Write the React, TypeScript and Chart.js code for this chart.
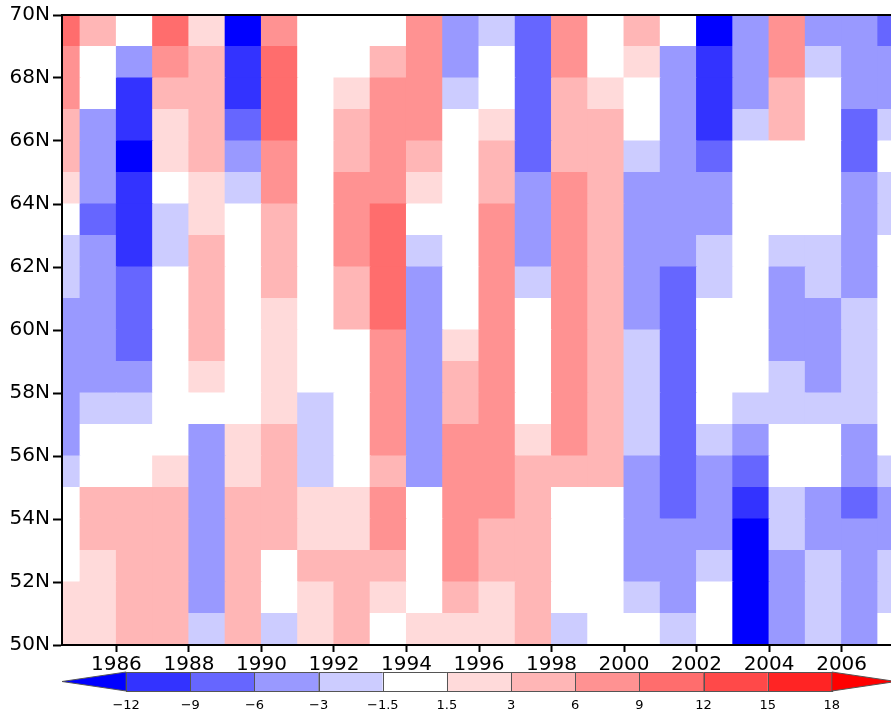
import { useEffect, useRef } from 'react';
import { Chart, registerables } from 'chart.js';

Chart.register(...registerables);

// Each cell spans one year (start year below) and one degree of latitude (lower edge below)
const cellYears = [1984, 1985, 1986, 1987, 1988, 1989, 1990, 1991, 1992, 1993, 1994, 1995,
  1996, 1997, 1998, 1999, 2000, 2001, 2002, 2003, 2004, 2005, 2006, 2007];
const latitudes = [69, 68, 67, 66, 65, 64, 63, 62, 61, 60, 59, 58, 57, 56, 55, 54, 53, 52, 51, 50];

const lat69 = [10.5, 4.5, 0, 10.5, 2.2, -13.5, 7.5, 0, 0, 0, 7.5, -4.5, -2.2, -7.5, 7.5, 0, 4.5, 0, -13.5, -4.5, 7.5, -4.5, -4.5, -7.5];
const lat68 = [7.5, 0, -4.5, 7.5, 4.5, -10.5, 10.5, 0, 0, 4.5, 7.5, -4.5, 0, -7.5, 7.5, 0, 2.2, -4.5, -10.5, -4.5, 7.5, -2.2, -4.5, -4.5];
const lat67 = [7.5, 0, -10.5, 4.5, 4.5, -10.5, 10.5, 0, 2.2, 7.5, 7.5, -2.2, 0, -7.5, 4.5, 2.2, 0, -4.5, -10.5, -4.5, 4.5, 0, -4.5, -4.5];
const lat66 = [4.5, -4.5, -10.5, 2.2, 4.5, -7.5, 10.5, 0, 4.5, 7.5, 7.5, 0, 2.2, -7.5, 4.5, 4.5, 0, -4.5, -10.5, -2.2, 4.5, 0, -7.5, -2.2];
const lat65 = [4.5, -4.5, -13.5, 2.2, 4.5, -4.5, 7.5, 0, 4.5, 7.5, 4.5, 0, 4.5, -7.5, 4.5, 4.5, -2.2, -4.5, -7.5, 0, 0, 0, -7.5, 0];
const lat64 = [2.2, -4.5, -10.5, 0, 2.2, -2.2, 7.5, 0, 7.5, 7.5, 2.2, 0, 4.5, -4.5, 7.5, 4.5, -4.5, -4.5, -4.5, 0, 0, 0, -4.5, -2.2];
const lat63 = [0, -7.5, -10.5, -2.2, 2.2, 0, 4.5, 0, 7.5, 10.5, 0, 0, 7.5, -4.5, 7.5, 4.5, -4.5, -4.5, -4.5, 0, 0, 0, -4.5, -2.2];
const lat62 = [-2.2, -4.5, -10.5, -2.2, 4.5, 0, 4.5, 0, 7.5, 10.5, -2.2, 0, 7.5, -4.5, 7.5, 4.5, -4.5, -4.5, -2.2, 0, -2.2, -2.2, -4.5, 0];
const lat61 = [-2.2, -4.5, -7.5, 0, 4.5, 0, 4.5, 0, 4.5, 10.5, -4.5, 0, 7.5, -2.2, 7.5, 4.5, -4.5, -7.5, -2.2, 0, -4.5, -2.2, -4.5, 0];
const lat60 = [-4.5, -4.5, -7.5, 0, 4.5, 0, 2.2, 0, 4.5, 10.5, -4.5, 0, 7.5, 0, 7.5, 4.5, -4.5, -7.5, 0, 0, -4.5, -4.5, -2.2, 0];
const lat59 = [-4.5, -4.5, -7.5, 0, 4.5, 0, 2.2, 0, 0, 7.5, -4.5, 2.2, 7.5, 0, 7.5, 4.5, -2.2, -7.5, 0, 0, -4.5, -4.5, -2.2, 0];
const lat58 = [-4.5, -4.5, -4.5, 0, 2.2, 0, 2.2, 0, 0, 7.5, -4.5, 4.5, 7.5, 0, 7.5, 4.5, -2.2, -7.5, 0, 0, -2.2, -4.5, -2.2, 0];
const lat57 = [-4.5, -2.2, -2.2, 0, 0, 0, 2.2, -2.2, 0, 7.5, -4.5, 4.5, 7.5, 0, 7.5, 4.5, -2.2, -7.5, 0, -2.2, -2.2, -2.2, -2.2, 0];
const lat56 = [-4.5, 0, 0, 0, -4.5, 2.2, 4.5, -2.2, 0, 7.5, -4.5, 7.5, 7.5, 2.2, 7.5, 4.5, -2.2, -7.5, -2.2, -4.5, 0, 0, -4.5, 0];
const lat55 = [-2.2, 0, 0, 2.2, -4.5, 2.2, 4.5, -2.2, 0, 4.5, -4.5, 7.5, 7.5, 4.5, 4.5, 4.5, -4.5, -7.5, -4.5, -7.5, 0, 0, -4.5, -2.2];
const lat54 = [0, 4.5, 4.5, 4.5, -4.5, 4.5, 4.5, 2.2, 2.2, 7.5, 0, 7.5, 7.5, 4.5, 0, 0, -4.5, -7.5, -4.5, -10.5, -2.2, -4.5, -7.5, -4.5];
const lat53 = [0, 4.5, 4.5, 4.5, -4.5, 4.5, 4.5, 2.2, 2.2, 7.5, 0, 7.5, 4.5, 4.5, 0, 0, -4.5, -4.5, -4.5, -13.5, -2.2, -4.5, -4.5, -4.5];
const lat52 = [0, 2.2, 4.5, 4.5, -4.5, 4.5, 0, 4.5, 4.5, 4.5, 0, 7.5, 4.5, 4.5, 0, 0, -4.5, -4.5, -2.2, -13.5, -4.5, -2.2, -4.5, -2.2];
const lat51 = [2.2, 2.2, 4.5, 4.5, -4.5, 4.5, 0, 2.2, 4.5, 2.2, 0, 4.5, 2.2, 4.5, 0, 0, -2.2, -4.5, 0, -13.5, -4.5, -2.2, -4.5, -2.2];
const lat50 = [2.2, 2.2, 4.5, 4.5, -2.2, 4.5, -2.2, 2.2, 4.5, 0, 2.2, 2.2, 2.2, 4.5, -2.2, 0, 0, -2.2, 0, -13.5, -4.5, -2.2, -4.5, 0];

const rowValues = [lat69, lat68, lat67, lat66, lat65, lat64, lat63, lat62, lat61, lat60,
  lat59, lat58, lat57, lat56, lat55, lat54, lat53, lat52, lat51, lat50];

const xTickYears = [1986, 1988, 1990, 1992, 1994, 1996, 1998, 2000, 2002, 2004, 2006];
const yTickLats = [50, 52, 54, 56, 58, 60, 62, 64, 66, 68, 70];

const levels = [-12, -9, -6, -3, -1.5, 1.5, 3, 6, 9, 12, 15, 18];
const levelLabels = ['\u221212', '\u22129', '\u22126', '\u22123', '\u22121.5', '1.5', '3', '6', '9', '12', '15', '18'];
const fillColors = ['#0000ff', '#3333ff', '#6666ff', '#9999ff', '#ccccff', '#ffffff',
  '#ffdada', '#ffb6b6', '#ff9292', '#ff6d6d', '#ff4949', '#ff2424', '#ff0000'];

const FONT = '"DejaVu Sans", sans-serif';

function colorFor(v: number): string {
  const idx = levels.filter((l) => v >= l).length;
  return fillColors[idx];
}

export default function App() {
  const ref = useRef<HTMLCanvasElement>(null);

  useEffect(() => {
    if (!ref.current) return;
    const points: { x: number; y: number[] }[] = [];
    const colors: string[] = [];
    latitudes.forEach((lat, r) => {
      cellYears.forEach((yr, c) => {
        points.push({ x: yr + 0.5, y: [lat, lat + 1] });
        colors.push(colorFor(rowValues[r][c]));
      });
    });

    const framePlugin = {
      id: 'frameAndColorbar',
      afterDatasetsDraw(chart: any) {
        const { ctx, chartArea } = chart;
        ctx.save();
        ctx.strokeStyle = '#000';
        ctx.lineWidth = 2;
        ctx.beginPath();
        ctx.moveTo(chartArea.left - 1, chartArea.top);
        ctx.lineTo(chartArea.right, chartArea.top);
        ctx.stroke();
        ctx.restore();
      },
      afterDraw(chart: any) {
        const { ctx, chartArea } = chart;
        const { left, right, bottom } = chartArea;
        const n = fillColors.length;
        const segW = (right - left) / n;
        const y0 = bottom + 27;
        const h = 19;
        ctx.save();
        ctx.lineWidth = 1;
        ctx.strokeStyle = '#555';
        // left triangle
        ctx.beginPath();
        ctx.moveTo(left, y0 + h / 2);
        ctx.lineTo(left + segW, y0);
        ctx.lineTo(left + segW, y0 + h);
        ctx.closePath();
        ctx.fillStyle = fillColors[0];
        ctx.fill();
        ctx.stroke();
        for (let i = 1; i < n - 1; i++) {
          const x = left + i * segW;
          ctx.fillStyle = fillColors[i];
          ctx.fillRect(x, y0, segW, h);
          ctx.strokeRect(Math.round(x) + 0.5, y0 + 0.5, segW, h);
        }
        // right triangle
        ctx.beginPath();
        ctx.moveTo(left + (n - 1) * segW, y0);
        ctx.lineTo(right, y0 + h / 2);
        ctx.lineTo(left + (n - 1) * segW, y0 + h);
        ctx.closePath();
        ctx.fillStyle = fillColors[n - 1];
        ctx.fill();
        ctx.stroke();
        // labels
        ctx.fillStyle = '#000';
        ctx.font = '13px ' + FONT;
        ctx.textAlign = 'center';
        ctx.textBaseline = 'middle';
        levelLabels.forEach((lab, i) => {
          ctx.fillText(lab, left + (i + 1) * segW, bottom + 61);
        });
        ctx.restore();
      },
    };

    const chart = new Chart(ref.current, {
      type: 'bar',
      data: {
        datasets: [
          {
            data: points as any,
            backgroundColor: colors,
            borderWidth: 0,
            barPercentage: 1,
            categoryPercentage: 1,
            inflateAmount: 0.5,
            clip: 0,
          } as any,
        ],
      },
      options: {
        responsive: false,
        animation: false,
        events: [],
        layout: { padding: { top: 14, right: 4, left: 0, bottom: 0 } },
        plugins: { legend: { display: false }, tooltip: { enabled: false } },
        scales: {
          x: {
            type: 'linear',
            min: 1984.5,
            max: 2007.5,
            offset: false,
            afterBuildTicks: (s: any) => {
              s.ticks = xTickYears.map((v) => ({ value: v }));
            },
            afterFit: (s: any) => {
              s.height = 74;
            },
            grid: {
              display: true,
              drawOnChartArea: false,
              drawTicks: true,
              tickLength: 7,
              tickWidth: 2,
              tickColor: '#000',
              offset: false,
            },
            border: { display: true, color: '#000', width: 2, z: 1 },
            ticks: {
              autoSkip: false,
              maxRotation: 0,
              padding: 1,
              color: '#000',
              font: { family: FONT, size: 20 },
              callback: (v: any) => String(v),
            },
          },
          y: {
            type: 'linear',
            min: 50,
            max: 70,
            stacked: false,
            afterBuildTicks: (s: any) => {
              s.ticks = yTickLats.map((v) => ({ value: v }));
            },
            afterFit: (s: any) => {
              s.width = 62;
            },
            grid: {
              display: true,
              drawOnChartArea: false,
              drawTicks: true,
              tickLength: 9,
              tickWidth: 2,
              tickColor: '#000',
            },
            border: { display: true, color: '#000', width: 2, z: 1 },
            ticks: {
              autoSkip: false,
              padding: 3,
              color: '#000',
              font: { family: FONT, size: 20 },
              callback: (v: any) => v + 'N',
            },
          },
        },
      } as any,
      plugins: [framePlugin],
    });
    return () => chart.destroy();
  }, []);

  return (
    <div
      style={{
        position: 'absolute',
        left: 0,
        top: 0,
        width: 891,
        height: 719,
        overflow: 'hidden',
        background: '#fff',
      }}
    >
      <canvas ref={ref} width={900} height={719} style={{ display: 'block' }} />
    </div>
  );
}
